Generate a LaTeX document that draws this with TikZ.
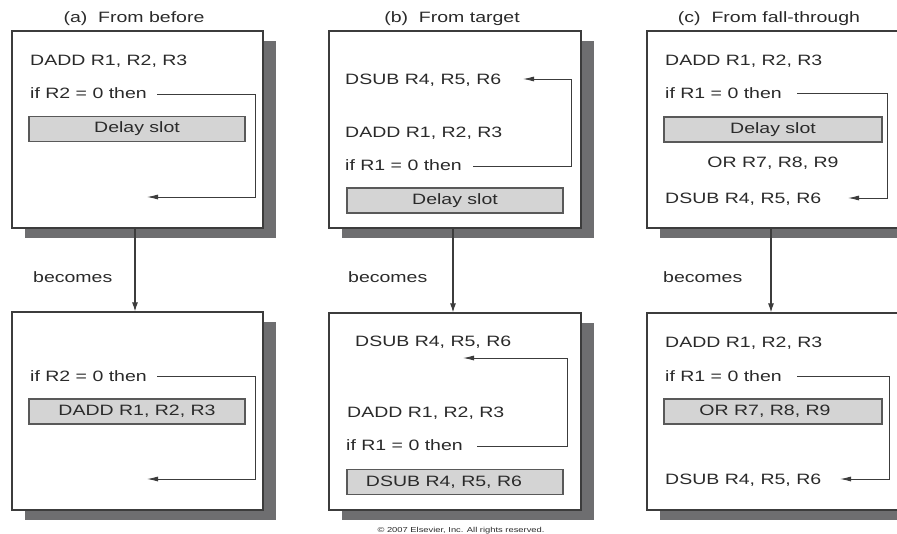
\documentclass[tikz,border=0pt]{standalone}
\usepackage{fontspec}
\setmainfont{Liberation Sans}[FakeStretch=1.3]
\usetikzlibrary{arrows.meta,shadows,calc}

\definecolor{linec}{HTML}{3C3C3C}
\definecolor{textc}{HTML}{2A2A2A}
\definecolor{shadowc}{HTML}{6E6E70}
\definecolor{slotc}{HTML}{D4D4D4}

\tikzset{
  panel/.style={draw=linec, line width=1.2pt, fill=white, inner sep=0pt,
    drop shadow={shadow xshift=13pt, shadow yshift=-10pt, fill=shadowc, opacity=1}},
  slot/.style={draw=linec!85, line width=1.2pt, fill=slotc, inner sep=0pt,
    minimum height=25pt, text=textc, font=\fontsize{15}{18}\selectfont},
  txt/.style={inner sep=0pt, anchor=base west, text=textc, font=\fontsize{15}{18}\selectfont},
  ctxt/.style={txt, anchor=base},
  branch/.style={draw=linec, line width=0.9pt, -{Latex[length=11pt,width=5pt]}},
  becomes/.style={draw=linec, line width=1.1pt, -{Latex[length=9pt,width=6pt]}}
}

\begin{document}
\begin{tikzpicture}[x=1pt, y=-1pt]
\useasboundingbox (0,0) rectangle (897,533);
\clip (0,0) rectangle (897,533);

% column titles
\node[ctxt] (ta) at (134,22) {(a)~~From before};
\node[ctxt] (tb) at (452,22) {(b)~~From target};
\node[ctxt] (tc) at (769,22) {(c)~~From fall-through};

% ---------- (a) from before ----------
\node[panel, minimum width=251pt, minimum height=197pt] (A1) at (137.5,129.5) {};
\node[txt] (a1add) at (30,65) {DADD R1, R2, R3};
\node[txt] (a1if) at (30,98) {if R2 = 0 then};
\node[slot, minimum width=216pt] (a1slot) at (137,129) {Delay slot};
\coordinate (a1s) at (157,94);
\coordinate (a1c1) at (255,94);
\coordinate (a1c2) at (255,197);
\coordinate (a1e) at (147,197);
\draw[branch] (a1s) -- (a1c1) -- (a1c2) -- (a1e);

\node[panel, minimum width=251pt, minimum height=198pt] (A2) at (137.5,411) {};
\node[txt] (a2if) at (30,381) {if R2 = 0 then};
\node[slot, minimum width=216pt] (a2slot) at (137,411.5) {DADD R1, R2, R3};
\coordinate (a2s) at (157,376);
\coordinate (a2c1) at (255,376);
\coordinate (a2c2) at (255,479);
\coordinate (a2e) at (147,479);
\draw[branch] (a2s) -- (a2c1) -- (a2c2) -- (a2e);

\node[txt] (ab) at (33,282) {becomes};
\draw[becomes] ($(A1.south)+(-2.5,0)$) -- ($(A2.north)+(-2.5,0)$);

% ---------- (b) from target ----------
\node[panel, minimum width=252pt, minimum height=197pt] (B1) at (455,129.5) {};
\node[txt] (b1sub) at (345,84) {DSUB R4, R5, R6};
\node[txt] (b1add) at (345,137) {DADD R1, R2, R3};
\node[txt] (b1if) at (345,170) {if R1 = 0 then};
\node[slot, minimum width=216pt] (b1slot) at (455,200.5) {Delay slot};
\coordinate (b1s) at (473,166);
\coordinate (b1c1) at (571,166);
\coordinate (b1c2) at (571,79);
\coordinate (b1e) at (523,79);
\draw[branch] (b1s) -- (b1c1) -- (b1c2) -- (b1e);

\node[panel, minimum width=252pt, minimum height=197pt] (B2) at (455,411.5) {};
\node[txt] (b2sub) at (355,346) {DSUB R4, R5, R6};
\node[txt] (b2add) at (347,417) {DADD R1, R2, R3};
\node[txt] (b2if) at (346,450) {if R1 = 0 then};
\node[slot, minimum width=216pt] (b2slot) at (455,482) {\hspace*{-22pt}DSUB R4, R5, R6};
\coordinate (b2s) at (477,446);
\coordinate (b2c1) at (567,446);
\coordinate (b2c2) at (567,358);
\coordinate (b2e) at (463,358);
\draw[branch] (b2s) -- (b2c1) -- (b2c2) -- (b2e);

\node[txt] (bb) at (348,282) {becomes};
\draw[becomes] ($(B1.south)+(-2,0)$) -- ($(B2.north)+(-2,0)$);

% ---------- (c) from fall-through ----------
\node[panel, minimum width=258pt, minimum height=197pt] (C1) at (776,129.5) {};
\node[txt] (c1add) at (665,65) {DADD R1, R2, R3};
\node[txt] (c1if) at (665,98) {if R1 = 0 then};
\node[slot, minimum width=218pt] (c1slot) at (773,129.5) {Delay slot};
\node[ctxt] (c1or) at (773,167) {OR R7, R8, R9};
\node[txt] (c1sub) at (665,203) {DSUB R4, R5, R6};
\coordinate (c1s) at (797,93);
\coordinate (c1c1) at (887,93);
\coordinate (c1c2) at (887,198);
\coordinate (c1e) at (848,198);
\draw[branch] (c1s) -- (c1c1) -- (c1c2) -- (c1e);

\node[panel, minimum width=258pt, minimum height=197pt] (C2) at (776,411.5) {};
\node[txt] (c2add) at (665,347) {DADD R1, R2, R3};
\node[txt] (c2if) at (665,381) {if R1 = 0 then};
\node[slot, minimum width=218pt] (c2slot) at (773,411.5) {\hspace*{-16pt}OR R7, R8, R9};
\node[txt] (c2sub) at (665,484) {DSUB R4, R5, R6};
\coordinate (c2s) at (797,376);
\coordinate (c2c1) at (889,376);
\coordinate (c2c2) at (889,479);
\coordinate (c2e) at (840,479);
\draw[branch] (c2s) -- (c2c1) -- (c2c2) -- (c2e);

\node[txt] (cb) at (663,282) {becomes};
\draw[becomes] ($(C1.south)+(-5,0)$) -- ($(C2.north)+(-5,0)$);

% footer
\node[ctxt, font=\fontsize{7.2}{8}\selectfont] (copy) at (461,532.5) {\textcopyright\ 2007 Elsevier, Inc. All rights reserved.};
\end{tikzpicture}
\end{document}
